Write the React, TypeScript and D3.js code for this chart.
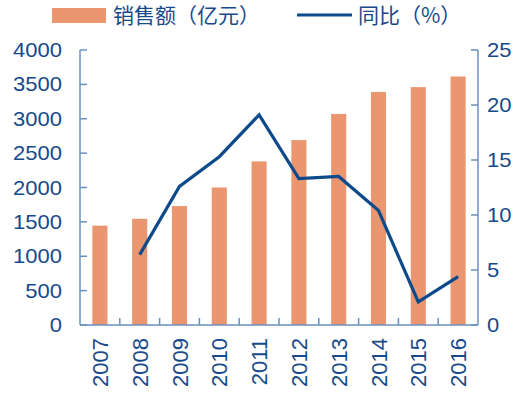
import React from "react";
import * as d3 from "d3";

const years = ["2007", "2008", "2009", "2010", "2011", "2012", "2013", "2014", "2015", "2016"];
const sales = [1445, 1545, 1730, 2000, 2380, 2690, 3070, 3390, 3460, 3615];
const growth = [null, 6.4, 12.6, 15.3, 19.1, 13.3, 13.5, 10.4, 2.1, 4.4];
const leftTicks = [0, 500, 1000, 1500, 2000, 2500, 3000, 3500, 4000];
const rightTicks = [0, 5, 10, 15, 20, 25];

const W = 523;
const H = 396;
const left = 80;
const right = 478;
const top = 50;
const bottom = 325;

const BAR = "#EA9670";
const LINE = "#0D4A8A";
const AXIS = "#6A8FBF";
const TEXT = "#17498B";
const FONT = "'Liberation Sans', Arial, sans-serif";
const CJK = "'Noto Sans CJK SC', sans-serif";

const App = () => {
  const x = d3.scaleBand().domain(years).range([left, right]).paddingInner(0.62).paddingOuter(0.31);
  const xb = d3.scaleBand().domain(years).range([left, right]);
  const y = d3.scaleLinear().domain([0, 4000]).range([bottom, top]);
  const y2 = d3.scaleLinear().domain([0, 25]).range([bottom, top]);

  const pts = years
    .map((yr, i) => ({ yr, v: growth[i] }))
    .filter((d) => d.v !== null) as { yr: string; v: number }[];
  const line = d3
    .line<{ yr: string; v: number }>()
    .x((d) => (xb(d.yr) as number) + xb.bandwidth() / 2)
    .y((d) => y2(d.v));

  return (
    <svg width={W} height={H} style={{ position: "absolute", left: 0, top: 0 }}>
      {/* legend */}
      <rect x={52} y={8} width={54} height={15} fill={BAR} />
      <text x={113} y={23} fontSize={21} fill={TEXT} fontFamily={CJK}>
        销售额（亿元）
      </text>
      <line x1={297} x2={352} y1={15} y2={15} stroke={LINE} strokeWidth={3} />
      <text x={358} y={23} fontSize={21} fill={TEXT} fontFamily={CJK}>
        同比（%）
      </text>

      {/* bars */}
      {years.map((yr, i) => (
        <rect
          key={yr}
          x={x(yr)}
          y={y(sales[i])}
          width={x.bandwidth()}
          height={bottom - y(sales[i])}
          fill={BAR}
        />
      ))}

      {/* axes */}
      <g stroke={AXIS} strokeWidth={1.5} fill="none">
        <line x1={left} x2={left} y1={top} y2={bottom} />
        <line x1={right} x2={right} y1={top} y2={bottom} />
        <line x1={left} x2={right} y1={bottom} y2={bottom} />
        {leftTicks.map((t) => (
          <line key={"l" + t} x1={left} x2={left + 7} y1={y(t)} y2={y(t)} />
        ))}
        {rightTicks.map((t) => (
          <line key={"r" + t} x1={right - 7} x2={right} y1={y2(t)} y2={y2(t)} />
        ))}
        {years.slice(1).map((yr) => (
          <line key={"b" + yr} x1={xb(yr)} x2={xb(yr)} y1={bottom} y2={bottom - 7} />
        ))}
      </g>

      {/* line */}
      <path d={line(pts) || ""} fill="none" stroke={LINE} strokeWidth={3.2} strokeLinejoin="miter" />

      {/* labels */}
      <g fill={TEXT} fontFamily={FONT} fontSize={20}>
        {leftTicks.map((t) => (
          <text key={"lt" + t} transform={`translate(62,${y(t) + 7}) scale(1.1,1)`} textAnchor="end">
            {t}
          </text>
        ))}
        {rightTicks.map((t) => (
          <text key={"rt" + t} transform={`translate(487,${y2(t) + 7}) scale(1.1,1)`} textAnchor="start">
            {t}
          </text>
        ))}
        {years.map((yr) => {
          const cx = (xb(yr) as number) + xb.bandwidth() / 2;
          return (
            <text
              key={"yt" + yr}
              fontSize={22}
              transform={`translate(${cx + 8},338) rotate(-90)`}
              textAnchor="end"
            >
              {yr}
            </text>
          );
        })}
      </g>
    </svg>
  );
};

export default App;
